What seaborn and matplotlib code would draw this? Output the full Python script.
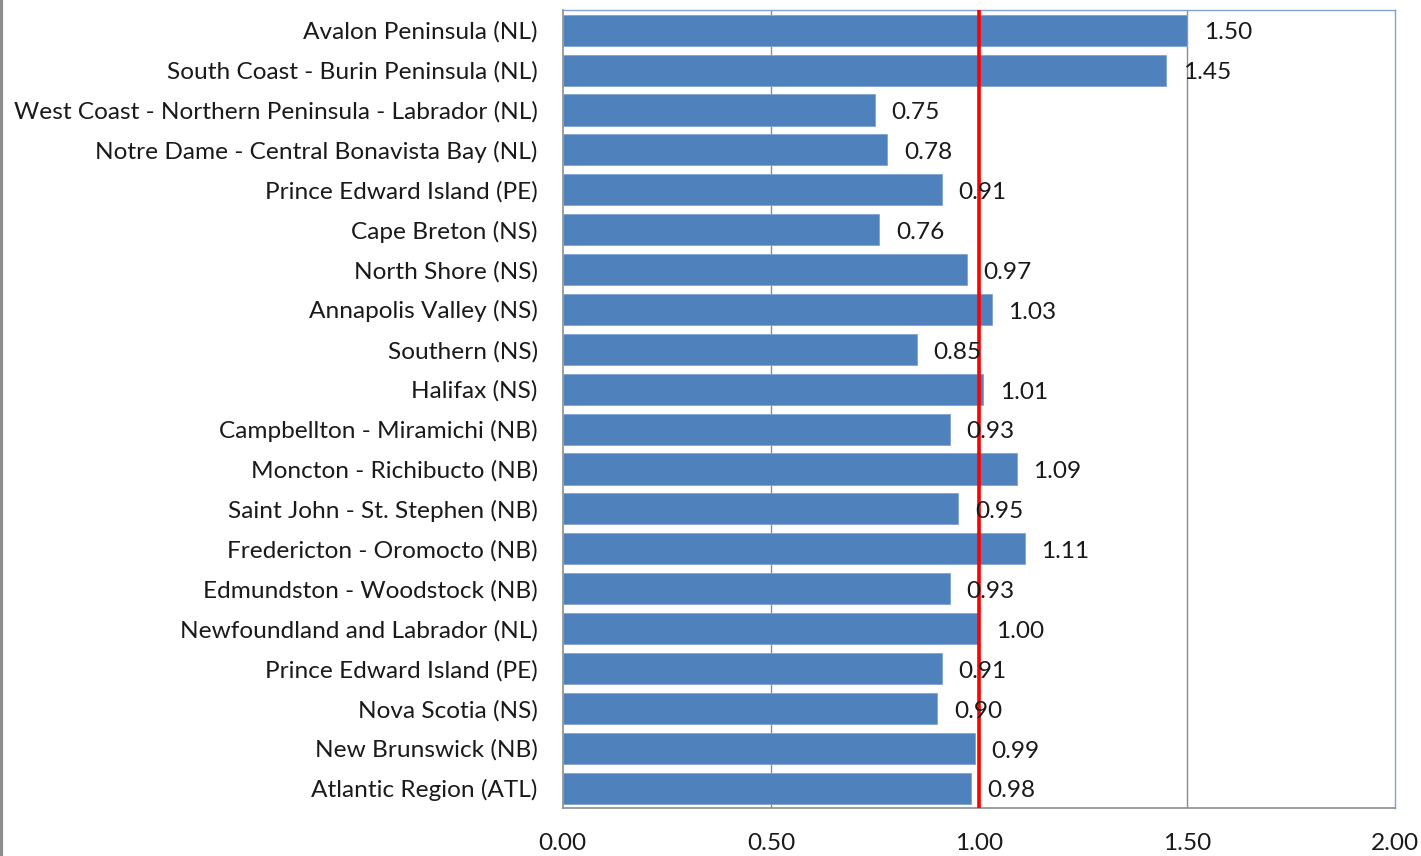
import matplotlib
matplotlib.use("Agg")
import matplotlib.pyplot as plt
import seaborn as sns
import pandas as pd

regions = [
    "Avalon Peninsula (NL)",
    "South Coast - Burin Peninsula (NL)",
    "West Coast - Northern Peninsula - Labrador (NL)",
    "Notre Dame - Central Bonavista Bay (NL)",
    "Prince Edward Island (PE)",
    "Cape Breton (NS)",
    "North Shore (NS)",
    "Annapolis Valley (NS)",
    "Southern (NS)",
    "Halifax (NS)",
    "Campbellton - Miramichi (NB)",
    "Moncton - Richibucto (NB)",
    "Saint John - St. Stephen (NB)",
    "Fredericton - Oromocto (NB)",
    "Edmundston - Woodstock (NB)",
    "Newfoundland and Labrador (NL)",
    "Prince Edward Island (PE) ",
    "Nova Scotia (NS)",
    "New Brunswick (NB)",
    "Atlantic Region (ATL)",
]
values = [1.50, 1.45, 0.75, 0.78, 0.91, 0.76, 0.97, 1.03, 0.85, 1.01,
          0.93, 1.09, 0.95, 1.11, 0.93, 1.00, 0.91, 0.90, 0.99, 0.98]
xticks = [0.0, 0.5, 1.0, 1.5, 2.0]
reference_value = 1.0

df = pd.DataFrame({"region": regions, "value": values})

sns.set_theme(style="white")
plt.rcParams["font.family"] = ["Lato", "DejaVu Sans"]

FS = 17.6
TXT = "#1A1A1A"

fig = plt.figure(figsize=(14.21, 8.56), dpi=100)
ax = fig.add_axes([0.396, 0.056, 0.586, 0.932])

sns.barplot(data=df, y="region", x="value", orient="h", color="#4F81BD",
            saturation=1, width=0.78, edgecolor="#7FA3D3", linewidth=0.6,
            ax=ax, zorder=3)

ax.set_xlim(0, 2.0)
ax.set_ylim(len(regions) - 0.5, -0.5)
ax.set_xticks(xticks)
ax.set_xticklabels([f"{t:.2f}" for t in xticks], fontsize=FS, color=TXT)
ax.set_yticks(range(len(regions)))
ax.set_yticklabels([r.strip() for r in regions], fontsize=FS, color=TXT)
ax.set_xlabel("")
ax.set_ylabel("")

# gridlines
for t in xticks[1:-1]:
    ax.axvline(t, color="#8C8C8C", linewidth=1.0, zorder=1)

# reference line
ax.axvline(reference_value, color="#FF0000", linewidth=2.6, zorder=5)

# data labels
for i, v in enumerate(values):
    ax.annotate(f"{v:.2f}", xy=(v, i), xytext=(12, -2), textcoords="offset points",
                ha="left", va="center", fontsize=FS, color=TXT, zorder=6)

# spines
for s in ["top", "right"]:
    ax.spines[s].set_color("#7FA3D3")
    ax.spines[s].set_linewidth(1.0)
for s in ["left", "bottom"]:
    ax.spines[s].set_color("#8C8C8C")
    ax.spines[s].set_linewidth(1.2)
    ax.spines[s].set_visible(True)

# category ticks between bars (Excel style)
ax.tick_params(axis="y", which="major", length=0, pad=18)
ax.set_yticks([i - 0.5 for i in range(len(regions) + 1)], minor=True)
ax.tick_params(axis="y", which="minor", length=7, color="#8C8C8C", width=1.0, direction="out")
ax.tick_params(axis="x", which="major", length=7, color="#8C8C8C", width=1.0,
               direction="out", pad=11)

# left edge line of the figure
fig.add_artist(plt.Line2D([0.001, 0.001], [0, 1], transform=fig.transFigure,
                          color="#8C8C8C", linewidth=3))

fig.savefig("out.png", dpi=100)
